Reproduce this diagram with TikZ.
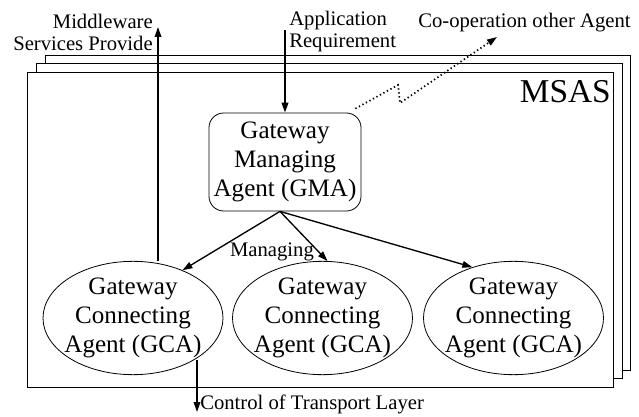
\documentclass[tikz,border=0pt]{standalone}
\usepackage{fontspec}
\setmainfont{Liberation Serif}
\usetikzlibrary{shapes.geometric,arrows.meta}

\begin{document}
\begin{tikzpicture}[x=0.75pt,y=0.75pt,yscale=-1,xscale=1,
  layer/.style={draw, line width=0.6pt, fill=white},
  gca/.style={draw, ellipse, line width=0.6pt, inner sep=0pt, minimum width=135pt, minimum height=85pt},
  big/.style={font=\fontsize{18.8}{21.8}\selectfont, align=center, inner sep=0pt},
  small/.style={font=\fontsize{15.5}{16.5}\selectfont, inner sep=0.75pt},
  flow/.style={-{Triangle[length=7.5pt,width=5pt]}, line width=1pt}
]
\useasboundingbox (0,0) rectangle (639,417);
%Shape: Rectangle [stack of three]
\draw [layer] (45,55) rectangle (630,370);
\draw [layer] (36,63) rectangle (622,378);
\draw [layer] (27,72) rectangle (613,387);
% Text Node
\node [anchor=base east, inner sep=0pt, font=\fontsize{25}{25}\selectfont] (msas) at (611,103) {MSAS};

%Shape: Rounded Rect
\node [draw, rounded corners=11pt, line width=0.6pt, minimum width=114pt, minimum height=73.5pt, big] (gma) at (285,162) {Gateway\\Managing\\Agent (GMA)};

%Shape: Ellipse
\node [gca] (gca1) at (133,318) {};
\node [gca] (gca2) at (322.5,318) {};
\node [gca] (gca3) at (513.5,318) {};
\node [big] (t1) at (gca1) {Gateway\\Connecting\\Agent (GCA)};
\node [big] (t2) at (gca2) {Gateway\\Connecting\\Agent (GCA)};
\node [big] (t3) at (gca3) {Gateway\\Connecting\\Agent (GCA)};

%Straight Lines [managing]
\coordinate (fork) at ([xshift=-3.75pt]gma.south);
\draw [flow] (fork) -- (gca1.44);
\draw [flow] (fork) -- (gca2.85);
\draw [flow] (fork) -- (gca3.129);
\node [small, anchor=base] (mng) at (272,257) {Managing};

%Straight Lines [application]
\coordinate (app) at (285,30);
\draw [flow, line width=1.4pt] (app) -- (app |- gma.north);
\node [small, anchor=west, align=left] (applbl) at (288,32) {Application\\Requirement};

%Straight Lines [middleware]
\coordinate (mw) at (158,27);
\draw [flow] (mw |- gca1.north) -- (mw);
\node [small, anchor=east, align=right] (mwlbl) at (154,32) {Middleware\\Services Provide};

%Straight Lines [transport]
\coordinate (ctl) at (197,412);
\draw [flow] (ctl |- gca1.-35) -- (ctl);
\node [small, anchor=west] (ctllbl) at (199,404) {Control of Transport Layer};

%Dotted Lines [co-operation]
\coordinate (zig1) at (398,85);
\coordinate (zig2) at (400,103);
\coordinate (coop) at (497,37);
\draw [flow, dotted, line width=1.3pt] ([xshift=-4.5pt,yshift=-3pt]gma.north east) -- (zig1) -- (zig2) -- (coop);
\node [small, anchor=west] (cooplbl) at (417,23) {Co-operation other Agent};
\end{tikzpicture}
\end{document}
